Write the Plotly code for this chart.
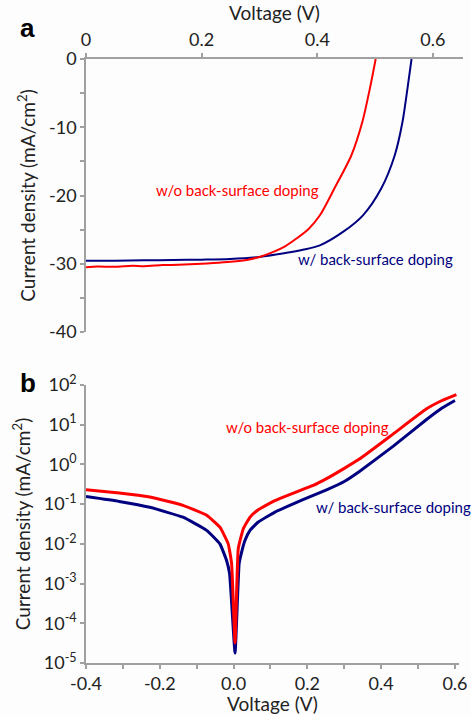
import plotly.graph_objects as go

# Panel a: J-V curves
va_red = [0, 0.02, 0.05, 0.08, 0.1, 0.133, 0.16, 0.2, 0.22, 0.25, 0.28, 0.30, 0.323, 0.345, 0.364, 0.385, 0.4045, 0.43, 0.459, 0.478, 0.491, 0.501]
ja_red = [-30.5, -30.4, -30.45, -30.3, -30.35, -30.2, -30.15, -30.0, -29.9, -29.7, -29.4, -29.0, -28.3, -27.4, -26.3, -24.9, -22.9, -18.9, -14.1, -9.2, -4.3, 0]
va_blue = [0, 0.05, 0.1, 0.15, 0.2, 0.249, 0.30, 0.347, 0.375, 0.4045, 0.445, 0.479, 0.511, 0.534, 0.5474, 0.556, 0.563]
ja_blue = [-29.55, -29.55, -29.5, -29.45, -29.4, -29.3, -29.0, -28.4, -27.95, -27.3, -25.3, -22.9, -18.9, -14.1, -9.2, -4.3, 0]

# Panel b: dark J-V (log scale)
vb_red = [-0.4, -0.31, -0.227, -0.137, -0.073, -0.037, -0.0145, -0.0054, 0.004, 0.0127, 0.0264, 0.0445, 0.067, 0.112, 0.157, 0.216, 0.252, 0.3, 0.342, 0.433, 0.523, 0.565, 0.604]
jb_red = [0.229, 0.191, 0.151, 0.0933, 0.0525, 0.0263, 0.01, 0.00324, 3.2e-5, 0.00759, 0.024, 0.0468, 0.0724, 0.123, 0.182, 0.295, 0.437, 0.794, 1.38, 5.89, 25.1, 40.7, 57.5]
vb_blue = [-0.4, -0.31, -0.227, -0.137, -0.073, -0.037, -0.019, -0.0108, 0.004, 0.015, 0.022, 0.031, 0.0445, 0.067, 0.112, 0.157, 0.216, 0.252, 0.3, 0.342, 0.433, 0.523, 0.565, 0.6]
jb_blue = [0.155, 0.117, 0.0832, 0.0468, 0.0219, 0.01, 0.0038, 0.00178, 1.78e-5, 0.00316, 0.00631, 0.0123, 0.0219, 0.0355, 0.0631, 0.0977, 0.166, 0.229, 0.372, 0.676, 2.88, 13.5, 26.3, 40.7]

label_wo = "w/o back-surface doping"
label_w = "w/ back-surface doping"

a_yticks = [0, -10, -20, -30, -40]
a_yticktext = ["0", "-10", "-20", "-30", "-40"]
a_xticks = [0, 0.2, 0.4, 0.6]
a_xticktext = ["0", "0.2", "0.4", "0.6"]
b_xticks = [-0.4, -0.2, 0.0, 0.2, 0.4, 0.6]
b_xticktext = ["-0.4", "-0.2", "0.0", "0.2", "0.4", "0.6"]
b_yticks = [1e-5, 1e-4, 1e-3, 1e-2, 1e-1, 1e0, 1e1, 1e2]
b_yticktext = ["10<sup>-5</sup>", "10<sup>-4</sup>", "10<sup>-3</sup>", "10<sup>-2</sup>",
               "10<sup>-1</sup>", "10<sup>0</sup>", "10<sup>1</sup>", "10<sup>2</sup>"]

RED = "#ff0000"
NAVY = "#000080"
AX = "#a0a0a0"
FONT = "Lato"
TXT = "#222222"
FS = 18

fig = go.Figure()
fig.add_trace(go.Scatter(x=va_blue, y=ja_blue, mode="lines", line=dict(color=NAVY, width=2, shape="spline", smoothing=0.8),
                         xaxis="x", yaxis="y", showlegend=False))
fig.add_trace(go.Scatter(x=va_red, y=ja_red, mode="lines", line=dict(color=RED, width=2, shape="spline", smoothing=0.8),
                         xaxis="x", yaxis="y", showlegend=False))
fig.add_trace(go.Scatter(x=vb_blue, y=jb_blue, mode="lines", line=dict(color=NAVY, width=3, shape="spline", smoothing=0.35),
                         xaxis="x2", yaxis="y2", showlegend=False))
fig.add_trace(go.Scatter(x=vb_red, y=jb_red, mode="lines", line=dict(color=RED, width=3, shape="spline", smoothing=0.35),
                         xaxis="x2", yaxis="y2", showlegend=False))

axcommon = dict(showgrid=False, zeroline=False, showline=True, linecolor=AX, linewidth=1.5,
                ticks="outside", tickcolor=AX, ticklen=4, tickwidth=1.5, automargin=False,
                tickfont=dict(family=FONT, size=FS, color=TXT))
ytitle = dict(text="Current density (mA/cm<sup>2</sup>)", font=dict(family=FONT, size=19, color=TXT), standoff=8)
xtitle = dict(text="Voltage (V)", font=dict(family=FONT, size=19, color=TXT), standoff=2)

fig.update_layout(
    width=471, height=715,
    margin=dict(l=86, r=8, t=59, b=52),
    paper_bgcolor="#fdfdfd", plot_bgcolor="#fdfdfd",
    font=dict(family=FONT, color=TXT),
    xaxis=dict(**axcommon, domain=[0, 1], anchor="y", side="top", range=[0, 0.652],
               tickvals=a_xticks, ticktext=a_xticktext, title=xtitle),
    yaxis=dict(**axcommon, domain=[0.548, 1], anchor="x", range=[-40, 0],
               tickvals=a_yticks, ticktext=a_yticktext,
               minor=dict(dtick=5, ticks="outside", ticklen=4, tickcolor=AX, tickwidth=1.5, showgrid=False),
               title=ytitle),
    xaxis2=dict(**axcommon, domain=[0, 0.9894], anchor="y2", range=[-0.4, 0.611],
                tickvals=b_xticks, ticktext=b_xticktext,
                minor=dict(dtick=0.1, tick0=0, ticks="outside", ticklen=4, tickcolor=AX, tickwidth=1.5, showgrid=False),
                title=xtitle),
    yaxis2=dict(**axcommon, domain=[0, 0.4603], anchor="x2", type="log", range=[-5, 2],
                tickvals=b_yticks, ticktext=b_yticktext, title=ytitle),
)

AFS = 15
fig.add_annotation(x=0.262, y=-19.2, xref="x", yref="y", text=label_wo, showarrow=False,
                   font=dict(family=FONT, size=AFS, color=RED))
fig.add_annotation(x=0.50, y=-29.3, xref="x", yref="y", text=label_w, showarrow=False,
                   font=dict(family=FONT, size=AFS, color=NAVY))
fig.add_annotation(x=0.199, y=0.93, xref="x2", yref="y2", text=label_wo, showarrow=False,
                   font=dict(family=FONT, size=AFS, color=RED))
fig.add_annotation(x=0.433, y=-1.08, xref="x2", yref="y2", text=label_w, showarrow=False,
                   font=dict(family=FONT, size=AFS, color=NAVY))

# panel letters
fig.add_annotation(x=-68/377, y=(715 - 52 - 28) / 604, xref="paper", yref="paper", text="<b>a</b>",
                   showarrow=False, font=dict(family="Liberation Sans", size=26, color="#000"), xanchor="left", yanchor="middle")
fig.add_annotation(x=-68/377, y=(715 - 52 - 383) / 604, xref="paper", yref="paper", text="<b>b</b>",
                   showarrow=False, font=dict(family="Liberation Sans", size=26, color="#000"), xanchor="left", yanchor="middle")

fig.write_html("out.html", config={"displayModeBar": False},
               post_script="document.body.style.margin='0';document.body.style.padding='0';")
